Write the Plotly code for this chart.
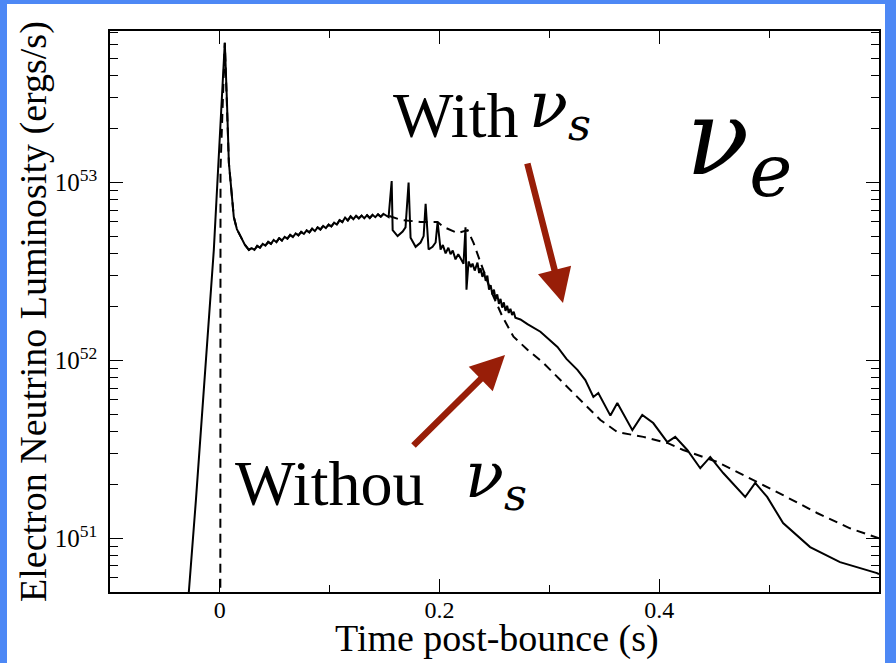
import plotly.graph_objects as go
import math

# ---- data (time in s, luminosity in ergs/s) ----
rise_with_t = [-0.032, -0.0282, -0.0218, -0.0055, -0.0009]
rise_with_L = [2.5e50, 5.0e50, 1.64e51, 4.18e52, 1.34e53]

rise_without_t = [0.0004, 0.0006]
rise_without_L = [2.0e50, 1.2e53]

common_t = [0.0045, 0.0064, 0.0082, 0.0127, 0.0155, 0.0191, 0.0227, 0.0264,
            0.0290, 0.0315, 0.0340, 0.0365, 0.0390, 0.0415, 0.0440, 0.0465,
            0.0490, 0.0515, 0.0540, 0.0565, 0.0590, 0.0615, 0.0640, 0.0665,
            0.0690, 0.0715, 0.0740, 0.0765, 0.0790, 0.0815, 0.0840, 0.0865,
            0.0890, 0.0915, 0.0940, 0.0965, 0.0990, 0.1015, 0.1040, 0.1065,
            0.1090, 0.1115, 0.1140, 0.1165, 0.1190, 0.1215, 0.1240, 0.1265,
            0.1290, 0.1315, 0.1340, 0.1365, 0.1390, 0.1415, 0.1440, 0.1465, 0.1490]
common_L = [6.1e53, 2.92e53, 1.29e53, 6.4e52, 5.47e52, 4.95e52, 4.47e52, 4.18e52,
            4.28e52, 4.18e52, 4.40e52, 4.30e52, 4.52e52, 4.42e52, 4.64e52, 4.52e52,
            4.75e52, 4.62e52, 4.86e52, 4.72e52, 4.95e52, 4.84e52, 5.08e52, 4.94e52,
            5.18e52, 5.04e52, 5.28e52, 5.14e52, 5.38e52, 5.24e52, 5.50e52, 5.34e52,
            5.60e52, 5.44e52, 5.70e52, 5.54e52, 5.80e52, 5.66e52, 5.95e52, 5.80e52,
            6.15e52, 6.00e52, 6.35e52, 6.12e52, 6.45e52, 6.22e52, 6.50e52, 6.28e52,
            6.52e52, 6.30e52, 6.55e52, 6.32e52, 6.58e52, 6.38e52, 6.62e52, 6.42e52, 6.66e52]

with_t = [0.1536, 0.1564, 0.1573, 0.1618, 0.1664, 0.169, 0.1718, 0.1736, 0.1782,
          0.1827, 0.1855, 0.1873, 0.190, 0.1936, 0.1964, 0.1982, 0.2009, 0.203,
          0.2055, 0.208, 0.210, 0.212, 0.2145, 0.217, 0.2191, 0.2218, 0.2236,
          0.2245, 0.2264, 0.2285, 0.230, 0.232, 0.2345, 0.236, 0.2373, 0.239,
          0.2405, 0.242, 0.2435, 0.245, 0.2465, 0.248, 0.2495, 0.251, 0.2525,
          0.254, 0.2555, 0.257, 0.2585, 0.260, 0.2615, 0.263, 0.2645, 0.266,
          0.2675, 0.269, 0.2736, 0.28, 0.2918, 0.299, 0.3073, 0.3155,
          0.3255, 0.3327, 0.340, 0.3445, 0.3555, 0.3618, 0.3755, 0.3845, 0.3945,
          0.4073, 0.4145, 0.4255, 0.4373, 0.4464, 0.4582, 0.4782, 0.4873, 0.4982,
          0.5127, 0.5373, 0.5645, 0.5982, 0.6]
with_L = [6.4e52, 1.02e53, 5.4e52, 5.0e52, 5.3e52, 5.6e52, 1.0e53, 4.9e52, 4.35e52,
          4.6e52, 5.0e52, 7.6e52, 4.2e52, 4.35e52, 4.6e52, 6.0e52, 4.2e52, 4.45e52,
          4.0e52, 4.3e52, 3.95e52, 4.15e52, 3.7e52, 3.95e52, 3.75e52, 3.5e52, 5.6e52,
          2.5e52, 3.6e52, 3.35e52, 3.5e52, 3.2e52, 3.55e52, 3.1e52, 3.3e52, 2.95e52,
          3.15e52, 2.8e52, 3.0e52, 2.5e52, 2.65e52, 2.35e52, 2.5e52, 2.2e52, 2.35e52,
          2.08e52, 2.22e52, 1.98e52, 2.12e52, 1.9e52, 2.03e52, 1.85e52, 1.95e52, 1.8e52,
          1.88e52, 1.74e52, 1.7e52, 1.6e52, 1.45e52, 1.32e52, 1.19e52, 1.02e52,
          8.85e51, 7.76e51, 6.23e51, 6.56e51, 4.9e51, 5.77e51, 4.06e51, 4.94e51, 4.45e51,
          3.48e51, 3.72e51, 3.14e51, 2.48e51, 2.87e51, 2.33e51, 1.71e51, 2.05e51, 1.71e51,
          1.22e51, 8.94e50, 7.36e50, 6.38e50, 6.3e50]

without_t = [0.151, 0.1645, 0.1827, 0.1982, 0.2036, 0.2164, 0.2255, 0.2309, 0.2373,
             0.2464, 0.2573, 0.2673, 0.28, 0.2945, 0.31, 0.3282, 0.3464, 0.3618,
             0.3855, 0.4073, 0.4218, 0.4527, 0.4827, 0.5127, 0.5436, 0.5736, 0.6]
without_L = [6.58e52, 6.17e52, 6.0e52, 6.0e52, 5.63e52, 5.2e52, 5.4e52, 4.58e52, 3.55e52,
             2.49e52, 1.76e52, 1.36e52, 1.15e52, 9.68e51, 7.76e51, 6.0e51, 4.63e51, 3.96e51,
             3.72e51, 3.44e51, 3.14e51, 2.69e51, 2.18e51, 1.75e51, 1.39e51, 1.14e51, 1.0e51]

x_tickvals = [0, 0.2, 0.4]
x_ticktext = ["0", "0.2", "0.4"]
x_minorvals = [0.1, 0.3, 0.5]
x_range = [-0.1, 0.6]
y_range_vals = [5.0e50, 7.1e53]

SERIF = "Liberation Serif"
GREEK = "DejaVu Serif"
BLUE = "rgb(77,136,245)"
RED = "rgb(152,30,8)"

fig = go.Figure()
fig.add_trace(go.Scatter(
    x=rise_without_t + common_t + without_t,
    y=rise_without_L + common_L + without_L,
    mode="lines", line=dict(color="black", width=2, dash="9px,6px"),
    showlegend=False, hoverinfo="skip"))
fig.add_trace(go.Scatter(
    x=rise_with_t + common_t + with_t,
    y=rise_with_L + common_L + with_L,
    mode="lines", line=dict(color="black", width=2),
    showlegend=False, hoverinfo="skip"))

W, H = 896, 663
L_, R_, T_, B_ = 110, 17, 31, 71
pw, ph = W - L_ - R_, H - T_ - B_

def px(x):
    return (x - L_) / pw

def py(y):
    return (H - B_ - y) / ph

fig.add_shape(type="rect", xref="paper", yref="paper",
              x0=px(7), x1=px(885), y0=py(670), y1=py(4),
              fillcolor="white", line=dict(width=0), layer="below")

fig.update_layout(
    width=W, height=H,
    margin=dict(l=L_, r=R_, t=T_, b=B_),
    paper_bgcolor=BLUE, plot_bgcolor="white",
    font=dict(family=SERIF, color="black"),
)
fig.update_xaxes(
    range=x_range, showgrid=False, zeroline=False,
    showline=True, linecolor="black", linewidth=1.5, mirror="ticks",
    ticks="inside", ticklen=13, tickwidth=1.3, tickcolor="black",
    tickvals=x_tickvals, ticktext=x_ticktext,
    tickfont=dict(family=SERIF, size=24, color="black"),
    ticklabelstandoff=-5,
    minor=dict(ticks="inside", ticklen=7, tickwidth=1.3, tickcolor="black",
               tickvals=x_minorvals, showgrid=False),
)
fig.update_yaxes(
    type="log", range=[math.log10(v) for v in y_range_vals],
    showgrid=False, zeroline=False,
    showline=True, linecolor="black", linewidth=1.5, mirror="ticks",
    ticks="inside", ticklen=13, tickwidth=1.3, tickcolor="black",
    dtick=1, exponentformat="power", showexponent="all",
    tickfont=dict(family=SERIF, size=20, color="black"),
    ticklabelstandoff=7,
    minor=dict(ticks="inside", ticklen=8, tickwidth=1.3, tickcolor="black",
               dtick="D1", showgrid=False),
)

ann = []
ann.append(dict(text="Time post-bounce (s)", x=px(497), y=py(638), xref="paper", yref="paper",
                xanchor="center", yanchor="middle", showarrow=False,
                font=dict(family=SERIF, size=38, color="black")))
ann.append(dict(text="Electron Neutrino Luminosity (ergs/s)", x=px(33.5), y=py(311.5),
                xref="paper", yref="paper", textangle=-90,
                xanchor="center", yanchor="middle", showarrow=False,
                font=dict(family=SERIF, size=38, color="black")))
ann.append(dict(text="With", x=px(391), y=py(116), xref="paper", yref="paper",
                xanchor="left", yanchor="middle", showarrow=False,
                font=dict(family=SERIF, size=64, color="black")))
ann.append(dict(text="<i>ν</i><sub><i>s</i></sub>", x=px(527), y=py(109), xref="paper", yref="paper",
                xanchor="left", yanchor="middle", showarrow=False,
                font=dict(family=GREEK, size=64, color="black")))
ann.append(dict(text="Withou", x=px(233), y=py(483.5), xref="paper", yref="paper",
                xanchor="left", yanchor="middle", showarrow=False,
                font=dict(family=SERIF, size=64, color="black")))
ann.append(dict(text="<i>ν</i><sub><i>s</i></sub>", x=px(463), y=py(480), xref="paper", yref="paper",
                xanchor="left", yanchor="middle", showarrow=False,
                font=dict(family=GREEK, size=64, color="black")))
ann.append(dict(text="<i>ν</i><sub><i>e</i></sub>", x=px(684), y=py(145), xref="paper", yref="paper",
                xanchor="left", yanchor="middle", showarrow=False,
                font=dict(family=GREEK, size=104, color="black")))
ann.append(dict(text="", x=px(563), y=py(303), xref="paper", yref="paper",
                ax=527 - 563, ay=162 - 303, showarrow=True,
                arrowhead=2, arrowwidth=6.5, arrowsize=1.05, arrowcolor=RED))
ann.append(dict(text="", x=px(505), y=py(355), xref="paper", yref="paper",
                ax=412 - 505, ay=447 - 355, showarrow=True,
                arrowhead=2, arrowwidth=6.5, arrowsize=1.05, arrowcolor=RED))
fig.update_layout(annotations=ann)

fig.write_html("out.html", post_script="document.body.style.margin='0';",
               config={"displayModeBar": False})
